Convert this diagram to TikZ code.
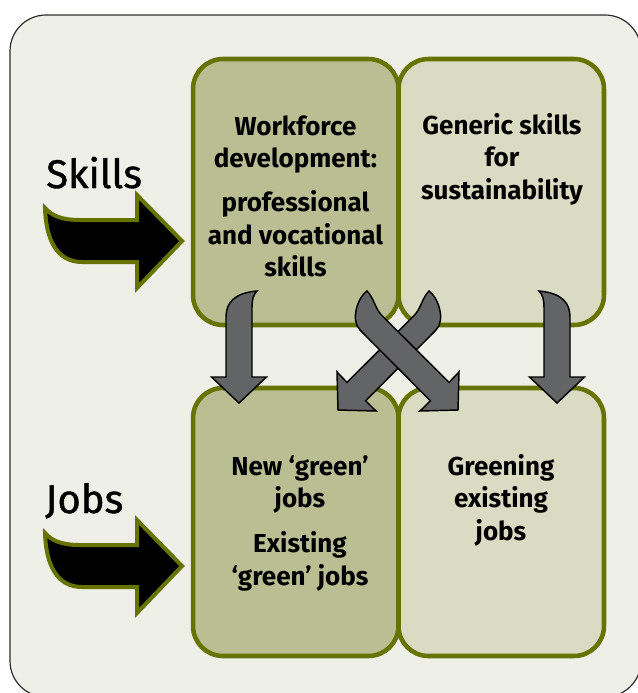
\documentclass[tikz,border=0pt]{standalone}
\usepackage{fontspec}
\setmainfont{Fira Sans}
\newfontfamily\labelfont{Fira Sans}[FakeBold=1]
\definecolor{oliveline}{RGB}{102,115,0}
\definecolor{darkfill}{RGB}{185,191,146}
\definecolor{lightfill}{RGB}{217,219,194}
\definecolor{bgfill}{RGB}{238,239,231}
\definecolor{arrowgray}{RGB}{99,100,102}
\definecolor{framegray}{RGB}{45,45,45}
\newcommand\boxfont{\bfseries\fontsize{19.5}{24.4}\selectfont}
\begin{document}
\begin{tikzpicture}[x=0.75pt,y=-0.75pt,
  frame/.style={draw=framegray, line width=0.9pt, fill=bgfill, rounded corners=27pt},
  box/.style={draw=oliveline, line width=3.4pt, rounded corners=22.5pt, inner sep=0pt,
    minimum width=154.1pt},
  bigarrow/.style={draw=oliveline, line width=3pt, fill=black, line join=miter},
  grayarrow/.style={draw=black, line width=1.1pt, fill=arrowgray, line join=miter},
  label/.style={anchor=base west, inner sep=0pt, font=\labelfont\fontsize{30}{36}\selectfont},
  boxtext/.style={anchor=base, inner sep=0pt}]
\useasboundingbox (0,0) rectangle (638,693);
\clip (0,0) rectangle (638,693);
% outer frame
\draw[frame] (10,15) rectangle (641,697);
% boxes
\node[box, fill=darkfill, minimum height=199.5pt] (tl) at (295.75,192) {};
\node[box, fill=lightfill, minimum height=199.5pt] (tr) at (501.25,192) {};
\node[box, fill=darkfill, minimum height=201pt] (bl) at (295.75,522) {};
\node[box, fill=lightfill, minimum height=201pt] (br) at (501.25,522) {};
% big arrows
\draw[bigarrow] (45,208) .. controls (52,216) and (62,220) .. (80,220) -- (137,220)
  -- (137,195) -- (182,241) -- (137,288) -- (137,262) -- (82,262)
  .. controls (57,262) and (46,240) .. (45,208) -- cycle;
\begin{scope}[shift={(0,325)}]
\draw[bigarrow] (45,208) .. controls (52,216) and (62,220) .. (80,220) -- (137,220)
  -- (137,195) -- (182,241) -- (137,288) -- (137,262) -- (82,262)
  .. controls (57,262) and (46,240) .. (45,208) -- cycle;
\end{scope}
% side labels
\node[label] (skills) at (46,188) {Skills};
\node[label] (jobs) at (45,513) {Jobs};
% box texts
\node[boxtext] (tltext) at (295.5,135) {\parbox[t]{170pt}{\centering\boxfont
  Workforce\\development:\par\vspace{8.6pt}professional\\and vocational\\skills}};
\node[boxtext] (trtext) at (502,134) {\parbox[t]{170pt}{\centering\boxfont
  Generic skills\\for\\sustainability}};
\node[boxtext] (bltext) at (300,475) {\parbox[t]{170pt}{\centering\boxfont
  New ‘green’\\jobs\par\vspace{9.4pt}Existing\\‘green’ jobs}};
\node[boxtext] (brtext) at (501,475) {\parbox[t]{170pt}{\centering\boxfont
  Greening\\existing\\jobs}};
% gray arrows: left vertical
\draw[grayarrow] (239,403) -- (211.5,377) -- (226,377) -- (226,317)
  .. controls (226,303) and (234,293) .. (257,291)
  .. controls (253,295) and (252,300) .. (252,308) -- (252,377) -- (266.5,377) -- cycle;
% right vertical (mirror)
\begin{scope}[shift={(796,0)}, xscale=-1]
\draw[grayarrow] (239,403) -- (211.5,377) -- (226,377) -- (226,317)
  .. controls (226,303) and (234,293) .. (257,291)
  .. controls (253,295) and (252,300) .. (252,308) -- (252,377) -- (266.5,377) -- cycle;
% diagonal B (mirror of A), underneath
\draw[grayarrow] (458,410) -- (459,372) -- (449,382.4) -- (382,315.6)
  .. controls (375,308.6) and (374,298) .. (367,291)
  .. controls (358,297) and (350,320) .. (360,330) -- (430.4,400.8) -- (420,411) -- cycle;
\end{scope}
% diagonal A on top
\draw[grayarrow] (458,410) -- (459,372) -- (449,382.4) -- (382,315.6)
  .. controls (375,308.6) and (374,298) .. (367,291)
  .. controls (358,297) and (350,320) .. (360,330) -- (430.4,400.8) -- (420,411) -- cycle;
\end{tikzpicture}
\end{document}
